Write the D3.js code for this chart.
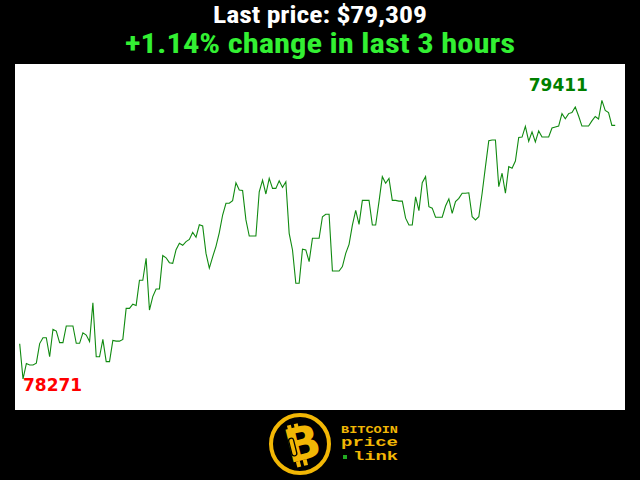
<!DOCTYPE html>
<html>
<head>
<meta charset="utf-8">
<script src="https://cdn.jsdelivr.net/npm/d3@7"></script>
<style>
  html, body { margin: 0; padding: 0; background: #000; }
  svg { display: block; }
</style>
</head>
<body>
<svg id="chart" width="640" height="480"></svg>
<script>
// Bitcoin price, one reading per minute over the last 3 hours (USD)
const prices = [
  78415,78271,78334,78328,78328,78336,78416,78440,78440,78362,
  78474,78467,78420,78420,78488,78488,78488,78417,78417,78460,
  78451,78424,78583,78362,78362,78433,78342,78342,78429,78426,
  78426,78433,78560,78560,78577,78572,78675,78675,78765,78553,
  78608,78639,78639,78776,78767,78747,78744,78800,78826,78818,
  78833,78842,78871,78851,78902,78897,78785,78725,78771,78814,
  78870,78942,78990,78990,79001,79074,79044,79042,78922,78856,
  78856,78856,79037,79085,79028,79092,79051,79051,79082,79055,
  79078,78867,78799,78663,78663,78802,78799,78751,78847,78847,
  78847,78935,78945,78945,78713,78713,78713,78731,78785,78822,
  78901,78961,78904,79002,79002,79002,78901,78901,78997,79099,
  79072,79092,79002,79002,78999,78999,78929,78901,78901,79016,
  78960,79074,79099,78976,78970,78933,78933,78933,78979,79008,
  78949,78997,79010,79031,79031,79033,78935,78922,78935,79031,
  79140,79246,79249,79249,79058,79113,79031,79140,79133,79163,
  79259,79261,79305,79244,79282,79241,79286,79261,79261,79261,
  79298,79302,79306,79357,79336,79357,79361,79384,79347,79306,
  79306,79306,79327,79345,79335,79411,79370,79361,79309,79309
];
const titleLine1 = "Last price: $79,309";
const titleLine2 = "+1.14% change in last 3 hours";
const logoWords = ["BITCOIN", "price", "link"];

const svg = d3.select("#chart");
const W = 640, H = 480;
svg.append("rect").attr("width", W).attr("height", H).attr("fill", "#000");

// titles
const titleFont = "'Liberation Sans Narrow', 'Roboto Condensed', Roboto, 'Open Sans', sans-serif";
svg.append("text")
  .attr("x", 320).attr("y", 23)
  .attr("text-anchor", "middle")
  .attr("font-family", titleFont)
  .attr("font-weight", "bold").attr("font-size", 24)
  .attr("textLength", 214).attr("lengthAdjust", "spacingAndGlyphs")
  .attr("fill", "#ffffff").text(titleLine1);
svg.append("text")
  .attr("x", 320).attr("y", 53)
  .attr("text-anchor", "middle")
  .attr("font-family", titleFont)
  .attr("font-weight", "bold").attr("font-size", 28)
  .attr("textLength", 390).attr("lengthAdjust", "spacingAndGlyphs")
  .attr("fill", "#33f033").text(titleLine2);

// plot panel
const panel = { x: 15, y: 64, w: 610, h: 346 };
svg.append("rect")
  .attr("x", panel.x).attr("y", panel.y)
  .attr("width", panel.w).attr("height", panel.h)
  .attr("fill", "#ffffff");

const minP = d3.min(prices), maxP = d3.max(prices);
const minI = prices.indexOf(minP), maxI = prices.indexOf(maxP);

const x = d3.scaleLinear()
  .domain([0, prices.length - 1])
  .range([panel.x + 4.7, panel.x + panel.w - 9.8]);
const y = d3.scaleLinear()
  .domain([minP, maxP])
  .range([panel.y + panel.h - 31, panel.y + 36.4]);

const line = d3.line()
  .x((d, i) => x(i))
  .y(d => y(d));

svg.append("path")
  .datum(prices)
  .attr("d", line)
  .attr("fill", "none")
  .attr("stroke", "#108a10")
  .attr("stroke-width", 1.1)
  .attr("stroke-linejoin", "miter");

// min / max labels
svg.append("text")
  .attr("x", x(minI)).attr("y", y(minP) + 12)
  .attr("font-family", "'DejaVu Sans', sans-serif")
  .attr("font-weight", "bold").attr("font-size", 17)
  .attr("fill", "#ff0000")
  .text(minP);
svg.append("text")
  .attr("x", x(maxI) - 14).attr("y", y(maxP) - 9.5)
  .attr("text-anchor", "end")
  .attr("font-family", "'DejaVu Sans', sans-serif")
  .attr("font-weight", "bold").attr("font-size", 17)
  .attr("fill", "#008000")
  .text(maxP);

// logo
const gold = "#f2b705";
const logo = svg.append("g");
logo.append("circle")
  .attr("cx", 300).attr("cy", 444).attr("r", 29)
  .attr("fill", "none").attr("stroke", gold).attr("stroke-width", 4);
const bg = logo.append("g").attr("transform", "translate(301,445) rotate(-14)");
bg.append("text")
  .attr("x", 2).attr("y", 15)
  .attr("text-anchor", "middle")
  .attr("font-family", "'DejaVu Sans', sans-serif")
  .attr("font-weight", "bold").attr("font-size", 46)
  .attr("fill", gold).text("B");
[-9, -2].forEach(dx => {
  bg.append("rect").attr("x", dx).attr("y", -22).attr("width", 4).attr("height", 6).attr("fill", gold);
  bg.append("rect").attr("x", dx).attr("y", 15).attr("width", 4).attr("height", 6).attr("fill", gold);
});
bg.append("rect").attr("x", -11).attr("y", -9).attr("width", 5).attr("height", 18)
  .attr("rx", 2.5).attr("fill", "none").attr("stroke", "#000").attr("stroke-width", 1.3);

const mono = "'Liberation Mono', 'DejaVu Sans Mono', monospace";
logo.append("text").attr("x", 341).attr("y", 433)
  .attr("font-family", mono).attr("font-weight", "bold").attr("font-size", 11)
  .attr("textLength", 57).attr("lengthAdjust", "spacingAndGlyphs")
  .attr("fill", gold).text(logoWords[0]);
logo.append("text").attr("x", 341).attr("y", 446)
  .attr("font-family", mono).attr("font-weight", "bold").attr("font-size", 13)
  .attr("textLength", 57).attr("lengthAdjust", "spacingAndGlyphs")
  .attr("fill", gold).text(logoWords[1]);
logo.append("rect").attr("x", 343).attr("y", 455).attr("width", 4).attr("height", 4).attr("fill", "#22aa22");
logo.append("text").attr("x", 353).attr("y", 460)
  .attr("font-family", mono).attr("font-weight", "bold").attr("font-size", 13)
  .attr("textLength", 45).attr("lengthAdjust", "spacingAndGlyphs")
  .attr("fill", gold).text(logoWords[2]);
</script>
</body>
</html>
